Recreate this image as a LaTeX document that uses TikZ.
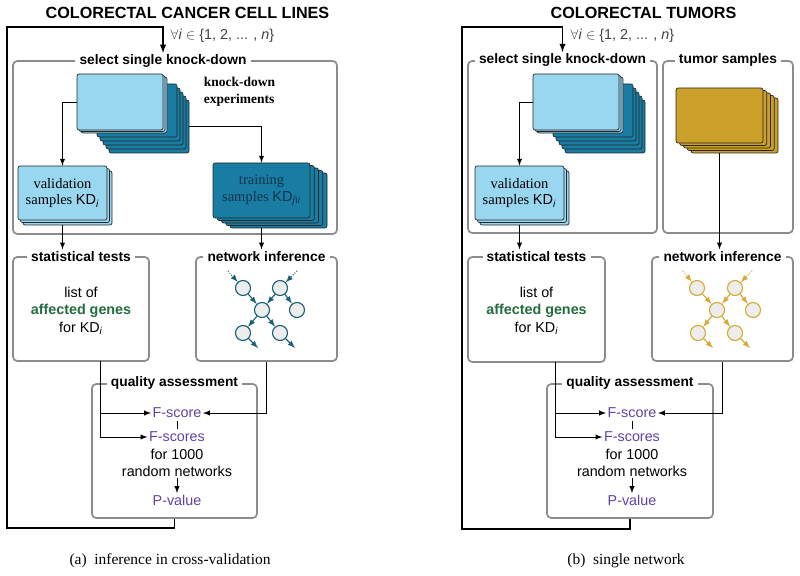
\documentclass[tikz,border=0pt]{standalone}
\usepackage{fontspec}
\setmainfont{Liberation Serif}
\setsansfont{Liberation Sans}
\usepackage{tikz}
\usetikzlibrary{positioning,arrows,shapes,fit}

\definecolor{boxgray}{RGB}{140,140,140}
\definecolor{kdlight}{RGB}{153,215,240}
\definecolor{kddark}{RGB}{24,124,163}
\definecolor{kdtext}{RGB}{18,52,78}
\definecolor{tumorgold}{RGB}{203,160,42}
\definecolor{netteal}{RGB}{25,95,120}
\definecolor{netgold}{RGB}{214,170,52}
\definecolor{genegreen}{RGB}{35,108,62}
\definecolor{scorepurple}{RGB}{95,66,165}

\newlength\pxu
\setlength\pxu{0.025cm}
\newcommand\KD[1]{\textsf{KD}\textsubscript{\textsf{\itshape #1}}}

\tikzstyle{panel}=[draw=boxgray, line width=1.2pt, rounded corners=3pt, inner sep=0pt]
\tikzstyle{boxtitle}=[fill=white, inner xsep=3pt, inner ysep=1pt, font=\fontsize{9.8}{11}\sffamily\bfseries]
\tikzstyle{heading}=[font=\fontsize{11.5}{13}\sffamily\bfseries]
\tikzstyle{card}=[draw=black!85, line width=0.5pt, rounded corners=1.5pt, align=center, inner sep=0pt, font=\fontsize{10.3}{12}\selectfont]
\tikzstyle{txt}=[font=\fontsize{10.2}{12.2}\sffamily, inner sep=1pt, align=center]
\tikzstyle{flow}=[-latex, line width=0.7pt]
\tikzstyle{loopline}=[-latex, line width=1pt]
\tikzstyle{gene}=[circle, draw, fill=black!7, line width=0.8pt, minimum size=15\pxu, inner sep=0pt]
\tikzstyle{link}=[-latex, line width=0.8pt]
\tikzstyle{faint}=[-latex, line width=0.8pt, dash pattern=on 0.6pt off 1.2pt on 0.6pt off 1.2pt on 0.6pt off 1.2pt on 20pt]

\begin{document}
\begin{tikzpicture}[x=\pxu, y=-\pxu]
	\useasboundingbox (0,0) rectangle (800,576);

	% ---------------- (a) cell lines ----------------
	\node[heading] (headA) at (187.5,13) {COLORECTAL CANCER CELL LINES};
	\node[panel, fit={(13,61) (337,234)}] (selbox) {};
	\node[panel, fit={(13,257) (149,361)}] (statbox) {};
	\node[panel, fit={(196,257) (337,361)}] (netbox) {};
	\node[panel, fit={(92,384) (257,518)}] (qualbox) {};
	\node[boxtitle] (seltitle) at (163,61) {select single knock-down};
	\node[boxtitle] (stattitle) at (statbox.north) {statistical tests};
	\node[boxtitle] (nettitle) at (netbox.north) {network inference};
	\node[boxtitle] (qualtitle) at (qualbox.north) {quality assessment};
	\node[txt, anchor=west, text=black!75] (rangeA) at (169,36) {$\forall$\textit{i} $\in$ \{1, 2, ... , \textit{n}\}};

	% knock-down stacks
	\foreach \k in {4,...,0}
		\node[card, fill=kddark, minimum width=80\pxu, minimum height=53\pxu] (kd-\k) at (137+3*\k,110.5+4*\k) {};
	\foreach \k in {2,...,0}
		\node[card, fill=kdlight, minimum width=86\pxu, minimum height=56\pxu] (lt-\k) at (120+2*\k,102+1.5*\k) {};
	\node[anchor=west, align=left, font=\fontsize{9.6}{12.2}\selectfont\bfseries] (kdlabel) at (199,92) {knock-down\\experiments};

	\foreach \k in {2,1}
		\node[card, fill=kdlight, minimum width=89\pxu, minimum height=54\pxu] (val-\k) at (62.5+2.5*\k,193+2.5*\k) {};
	\node[card, fill=kdlight, minimum width=89\pxu, minimum height=54\pxu] (val-0) at (62.5,193) {validation\\samples \KD{i}};
	\foreach \k in {4,...,1}
		\node[card, fill=kddark, minimum width=97\pxu, minimum height=55\pxu] (tr-\k) at (261.5+4.25*\k,190.5+2.5*\k) {};
	\node[card, fill=kddark, text=kdtext, minimum width=97\pxu, minimum height=55\pxu] (tr-0) at (261.5,190.5) {training\\samples \KD{j\textbackslash i}};

	\draw[flow] (lt-0.west) -| (val-0.north);
	\draw[flow] (kd-4.east) -| (tr-0.north);
	\draw[flow] (val-0.south |- val-2.south) -- (val-0.south |- stattitle.north);
	\draw[flow] (tr-0.south |- tr-4.south) -- (tr-0.south |- nettitle.north);

	% statistical tests
	\node[txt] (genesA) at (81,311) {list of\\\textcolor{genegreen}{\bfseries affected genes}\\for \KD{i}};

	% network inference
	\begin{scope}[shift={(262,310)}, netteal]
		\node[gene] (la1) at (-19,-22) {};
		\node[gene] (la2) at (18,-22) {};
		\node[gene] (la3) at (0,0) {};
		\node[gene] (la4) at (35,0) {};
		\node[gene] (la5) at (-19,23) {};
		\node[gene] (la6) at (18,23) {};
		\coordinate (lin1) at (-34,-39);
		\coordinate (lin2) at (35,-39);
		\coordinate (lout1) at (-4,38);
		\coordinate (lout2) at (33,38);
		\path[link] (la1) edge (la3) (la2) edge (la3) (la2) edge (la4) (la3) edge (la5) (la3) edge (la6);
		\path[faint] (lin1) edge (la1) (lin2) edge (la2);
		\path[link] (la5) edge (lout1) (la6) edge (lout2);
	\end{scope}

	% quality assessment
	\node[txt, text=scorepurple] (fscoreA) at (177,413) {F-score};
	\node[txt, text=scorepurple] (fscoresA) at (177,437) {F-scores};
	\node[txt] (randA) at (177,462.5) {for 1000\\random networks};
	\node[txt, text=scorepurple] (pvalA) at (177,500) {P-value};
	\coordinate (statoutA) at (100,361);
	\draw[line width=0.6pt, shorten <=1pt, shorten >=1pt] (fscoreA) -- (fscoresA);
	\draw[flow] (statoutA) |- (fscoreA.west);
	\draw[flow] (statoutA) |- (fscoresA.west);
	\draw[flow] (netbox.south) |- (fscoreA.east);
	\draw[flow] (randA) -- (pvalA);

	\coordinate (cornerA1) at (7,528);
	\coordinate (cornerA2) at (7,27);
	\draw[loopline] (qualbox.south) |- (cornerA1) -- (cornerA2) -| (seltitle.north);

	\node[font=\fontsize{11}{13}\selectfont] (capA) at (170,561) {(a)\enspace inference in cross-validation};

	% ---------------- (b) tumors ----------------
	\node[heading] (headB) at (643.5,13) {COLORECTAL TUMORS};
	\node[panel, fit={(468,61) (657,233)}] (selbox2) {};
	\node[panel, fit={(663,61) (793,233)}] (tumbox) {};
	\node[panel, fit={(468,257) (605,362)}] (statbox2) {};
	\node[panel, fit={(652,257) (793,361)}] (netbox2) {};
	\node[panel, fit={(547,384) (713,518)}] (qualbox2) {};
	\node[boxtitle] (seltitle2) at (selbox2.north) {select single knock-down};
	\node[boxtitle] (tumtitle) at (tumbox.north) {tumor samples};
	\node[boxtitle] (stattitle2) at (statbox2.north) {statistical tests};
	\node[boxtitle] (nettitle2) at (netbox2.north) {network inference};
	\node[boxtitle] (qualtitle2) at (qualbox2.north) {quality assessment};
	\node[txt, anchor=west, text=black!75] (rangeB) at (569,36) {$\forall$\textit{i} $\in$ \{1, 2, ... , \textit{n}\}};

	\foreach \k in {4,...,0}
		\node[card, fill=kddark, minimum width=80\pxu, minimum height=53\pxu] (kdb-\k) at (593+3*\k,110.5+4*\k) {};
	\foreach \k in {2,...,0}
		\node[card, fill=kdlight, minimum width=86\pxu, minimum height=56\pxu] (ltb-\k) at (576+2*\k,102+1.5*\k) {};
	\foreach \k in {2,1}
		\node[card, fill=kdlight, minimum width=89\pxu, minimum height=54\pxu] (valb-\k) at (519.5+2.5*\k,193+2.5*\k) {};
	\node[card, fill=kdlight, minimum width=89\pxu, minimum height=54\pxu] (valb-0) at (519.5,193) {validation\\samples \KD{i}};
	\foreach \k in {4,...,0}
		\node[card, fill=tumorgold, minimum width=87\pxu, minimum height=55\pxu] (tu-\k) at (719.5+3.75*\k,115.5+2.5*\k) {};

	\draw[flow] (ltb-0.west) -| (valb-0.north);
	\draw[flow] (valb-0.south |- valb-2.south) -- (valb-0.south |- stattitle2.north);
	\draw[flow] (tu-0.south |- tu-4.south) -- (tu-0.south |- nettitle2.north);

	\node[txt] (genesB) at (536.5,311) {list of\\\textcolor{genegreen}{\bfseries affected genes}\\for \KD{i}};

	\begin{scope}[shift={(717,310)}, netgold]
		\node[gene] (rb1) at (-20,-22) {};
		\node[gene] (rb2) at (18,-22) {};
		\node[gene] (rb3) at (0,0) {};
		\node[gene] (rb4) at (36,0) {};
		\node[gene] (rb5) at (-19,23) {};
		\node[gene] (rb6) at (18,23) {};
		\coordinate (rin1) at (-34,-39);
		\coordinate (rin2) at (35,-39);
		\coordinate (rout1) at (-4,38);
		\coordinate (rout2) at (33,38);
		\path[link] (rb1) edge (rb3) (rb2) edge (rb3) (rb2) edge (rb4) (rb3) edge (rb5) (rb3) edge (rb6);
		\path[faint] (rin1) edge (rb1) (rin2) edge (rb2);
		\path[link] (rb5) edge (rout1) (rb6) edge (rout2);
	\end{scope}

	\node[txt, text=scorepurple] (fscoreB) at (632,413) {F-score};
	\node[txt, text=scorepurple] (fscoresB) at (632,437) {F-scores};
	\node[txt] (randB) at (632,462.5) {for 1000\\random networks};
	\node[txt, text=scorepurple] (pvalB) at (632,500) {P-value};
	\coordinate (statoutB) at (555,362);
	\draw[line width=0.6pt, shorten <=1pt, shorten >=1pt] (fscoreB) -- (fscoresB);
	\draw[flow] (statoutB) |- (fscoreB.west);
	\draw[flow] (statoutB) |- (fscoresB.west);
	\draw[flow] (netbox2.south) |- (fscoreB.east);
	\draw[flow] (randB) -- (pvalB);

	\coordinate (cornerB1) at (462,529);
	\coordinate (cornerB2) at (462,27);
	\draw[loopline] (qualbox2.south) |- (cornerB1) -- (cornerB2) -| (seltitle2.north);

	\node[font=\fontsize{11}{13}\selectfont] (capB) at (626,561) {(b)\enspace single network};
\end{tikzpicture}
\end{document}
